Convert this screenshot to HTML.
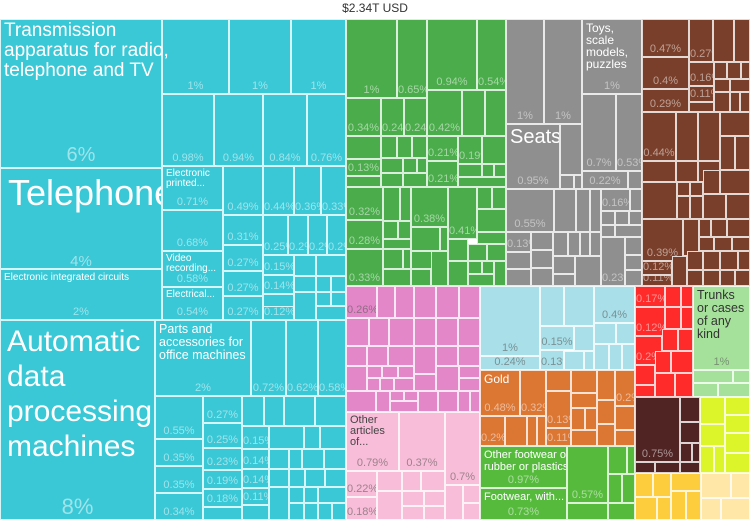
<!DOCTYPE html>
<html><head><meta charset="utf-8"><style>
body{margin:0;width:750px;height:520px;overflow:hidden;background:#fff;font-family:"Liberation Sans",sans-serif;position:relative}
.b{position:absolute;box-sizing:border-box;border:1px solid rgba(255,255,255,.8);overflow:hidden}
.p{position:absolute;left:0;right:0;bottom:0;text-align:center;font-size:11px;line-height:13px;color:rgba(255,255,255,.5);white-space:nowrap}
.t{position:absolute;left:3px;top:2px;color:#fff;font-size:11px;line-height:12px}
.c{background:#3ac8d6}.g{background:#4aac4a}.y{background:#8f8f8f}.r{background:#793f2a}
.k{background:#e387c8}.lk{background:#f8bdd8}.lb{background:#a9dfe8}.o{background:#dc7633}
.g2{background:#56bb3d}.rd{background:#ff2a2a}.lg{background:#a6e19b}.db{background:#512424}
.yg{background:#dbf52a}.yl{background:#fecd3e}.cr{background:#ffe7a7}
.dk .p{color:rgba(80,80,80,.55)}.dk .t{color:#444}
.y .p{color:rgba(230,230,230,.6)}
.ov{position:absolute;color:#fff;white-space:nowrap;z-index:5}
</style></head><body>
<div style="position:absolute;left:0;right:0;top:1px;text-align:center;font-size:12px;color:#333">$2.34T USD</div>

<!-- CYAN -->
<div class="b c" style="left:0;top:19px;width:162px;height:149px"><div class="p" style="font-size:20px;line-height:22px;bottom:1px">6%</div></div>
<div class="b c" style="left:162px;top:19px;width:67px;height:75px"><div class="p">1%</div></div>
<div class="b c" style="left:229px;top:19px;width:62px;height:75px"><div class="p">1%</div></div>
<div class="b c" style="left:291px;top:19px;width:55px;height:75px"><div class="p">1%</div></div>
<div class="b c" style="left:162px;top:94px;width:52px;height:72px"><div class="p">0.98%</div></div>
<div class="b c" style="left:214px;top:94px;width:49px;height:72px"><div class="p">0.94%</div></div>
<div class="b c" style="left:263px;top:94px;width:44px;height:72px"><div class="p">0.84%</div></div>
<div class="b c" style="left:307px;top:94px;width:39px;height:72px"><div class="p">0.76%</div></div>
<div class="ov" style="left:4px;top:21px;font-size:19px;line-height:20px">Transmission<br>apparatus for radio,<br>telephone and TV</div>
<div class="b c" style="left:0;top:168px;width:162px;height:101px"><div class="t" style="font-size:36px;line-height:40px;left:7px;top:4px;white-space:nowrap">Telephones</div><div class="p" style="font-size:15px">4%</div></div>
<div class="b c" style="left:0;top:269px;width:162px;height:51px"><div class="t" style="font-size:10px">Electronic integrated circuits</div><div class="p">2%</div></div>
<div class="b c" style="left:162px;top:166px;width:61px;height:44px"><div class="t" style="font-size:10px;line-height:10px">Electronic<br>printed...</div><div class="p">0.71%</div></div>
<div class="b c" style="left:162px;top:210px;width:61px;height:41px"><div class="p">0.68%</div></div>
<div class="b c" style="left:162px;top:251px;width:61px;height:36px"><div class="t" style="font-size:10px;line-height:10px">Video<br>recording...</div><div class="p">0.58%</div></div>
<div class="b c" style="left:162px;top:287px;width:61px;height:33px"><div class="t" style="font-size:10px;line-height:10px">Electrical...</div><div class="p">0.54%</div></div>
<div class="b c" style="left:223px;top:166px;width:40px;height:49px"><div class="p">0.49%</div></div>
<div class="b c" style="left:223px;top:215px;width:40px;height:30px"><div class="p">0.31%</div></div>
<div class="b c" style="left:223px;top:245px;width:40px;height:26px"><div class="p">0.27%</div></div>
<div class="b c" style="left:223px;top:271px;width:40px;height:25px"><div class="p">0.27%</div></div>
<div class="b c" style="left:223px;top:296px;width:40px;height:24px"><div class="p">0.27%</div></div>
<div class="b c" style="left:263px;top:166px;width:31px;height:49px"><div class="p">0.44%</div></div>
<div class="b c" style="left:294px;top:166px;width:27px;height:49px"><div class="p">0.36%</div></div>
<div class="b c" style="left:321px;top:166px;width:25px;height:49px"><div class="p">0.33%</div></div>
<div class="b c" style="left:263px;top:215px;width:25px;height:40px"><div class="p">0.25%</div></div>
<div class="b c" style="left:288px;top:215px;width:20px;height:40px"><div class="p">0.2%</div></div>
<div class="b c" style="left:308px;top:215px;width:19px;height:40px"><div class="p">0.2%</div></div>
<div class="b c" style="left:327px;top:215px;width:19px;height:40px"><div class="p">0.2%</div></div>
<div class="b c" style="left:263px;top:255px;width:31px;height:20px"><div class="p">0.15%</div></div>
<div class="b c" style="left:263px;top:275px;width:31px;height:19px"><div class="p">0.14%</div></div>
<div class="b c" style="left:263px;top:294px;width:31px;height:16px"></div>
<div class="b c" style="left:263px;top:306px;width:31px;height:14px"><div class="p">0.12%</div></div>
<div class="b c" style="left:294px;top:255px;width:22px;height:21px"></div>
<div class="b c" style="left:316px;top:255px;width:30px;height:21px"></div>
<div class="b c" style="left:294px;top:276px;width:22px;height:16px"></div>
<div class="b c" style="left:316px;top:276px;width:15px;height:16px"></div>
<div class="b c" style="left:331px;top:276px;width:15px;height:16px"></div>
<div class="b c" style="left:294px;top:292px;width:22px;height:28px"></div>
<div class="b c" style="left:316px;top:292px;width:15px;height:14px"></div>
<div class="b c" style="left:331px;top:292px;width:15px;height:14px"></div>
<div class="b c" style="left:316px;top:306px;width:30px;height:14px"></div>
<div class="b c" style="left:0;top:320px;width:155px;height:200px"><div class="p" style="font-size:22px;line-height:24px">8%</div></div>
<div class="b c" style="left:155px;top:320px;width:96px;height:76px"><div class="t" style="font-size:12.5px;line-height:13px">Parts and<br>accessories for<br>office machines</div><div class="p">2%</div></div>
<div class="b c" style="left:251px;top:320px;width:35px;height:76px"><div class="p">0.72%</div></div>
<div class="b c" style="left:286px;top:320px;width:32px;height:76px"><div class="p">0.62%</div></div>
<div class="b c" style="left:318px;top:320px;width:28px;height:76px"><div class="p">0.58%</div></div>
<div class="b c" style="left:155px;top:396px;width:48px;height:43px"><div class="p">0.55%</div></div>
<div class="b c" style="left:155px;top:439px;width:48px;height:27px"><div class="p">0.35%</div></div>
<div class="b c" style="left:155px;top:466px;width:48px;height:27px"><div class="p">0.35%</div></div>
<div class="b c" style="left:155px;top:493px;width:48px;height:27px"><div class="p">0.34%</div></div>
<div class="ov" style="left:7px;top:324px;font-size:30px;line-height:35px">Automatic<br>data<br>processing<br>machines</div>
<div class="b c" style="left:203px;top:396px;width:39px;height:27px"><div class="p">0.27%</div></div>
<div class="b c" style="left:203px;top:423px;width:39px;height:25px"><div class="p">0.25%</div></div>
<div class="b c" style="left:203px;top:448px;width:39px;height:22px"><div class="p">0.23%</div></div>
<div class="b c" style="left:203px;top:470px;width:39px;height:19px"><div class="p">0.19%</div></div>
<div class="b c" style="left:203px;top:489px;width:39px;height:18px"><div class="p">0.18%</div></div>
<div class="b c" style="left:203px;top:507px;width:39px;height:13px"></div>
<div class="b c" style="left:242px;top:396px;width:22px;height:30px"></div>
<div class="b c" style="left:264px;top:396px;width:20px;height:30px"></div>
<div class="b c" style="left:284px;top:396px;width:31px;height:30px"></div>
<div class="b c" style="left:315px;top:396px;width:31px;height:30px"></div>
<div class="b c" style="left:242px;top:426px;width:27px;height:23px"><div class="p">0.15%</div></div>
<div class="b c" style="left:242px;top:449px;width:27px;height:20px"><div class="p">0.14%</div></div>
<div class="b c" style="left:242px;top:469px;width:27px;height:19px"><div class="p">0.14%</div></div>
<div class="b c" style="left:242px;top:488px;width:27px;height:17px"><div class="p">0.11%</div></div>
<div class="b c" style="left:242px;top:505px;width:27px;height:15px"></div>
<div class="b c" style="left:269px;top:426px;width:35px;height:23px"></div>
<div class="b c" style="left:304px;top:426px;width:16px;height:23px"></div>
<div class="b c" style="left:320px;top:426px;width:26px;height:23px"></div>
<div class="b c" style="left:269px;top:449px;width:20px;height:20px"></div>
<div class="b c" style="left:289px;top:449px;width:13px;height:20px"></div>
<div class="b c" style="left:302px;top:449px;width:22px;height:20px"></div>
<div class="b c" style="left:324px;top:449px;width:22px;height:20px"></div>
<div class="b c" style="left:269px;top:469px;width:20px;height:18px"></div>
<div class="b c" style="left:289px;top:469px;width:16px;height:18px"></div>
<div class="b c" style="left:305px;top:469px;width:20px;height:18px"></div>
<div class="b c" style="left:325px;top:469px;width:21px;height:18px"></div>
<div class="b c" style="left:269px;top:487px;width:20px;height:33px"></div>
<div class="b c" style="left:289px;top:487px;width:15px;height:16px"></div>
<div class="b c" style="left:304px;top:487px;width:14px;height:16px"></div>
<div class="b c" style="left:318px;top:487px;width:28px;height:16px"></div>
<div class="b c" style="left:289px;top:503px;width:15px;height:17px"></div>
<div class="b c" style="left:304px;top:503px;width:14px;height:17px"></div>
<div class="b c" style="left:318px;top:503px;width:14px;height:17px"></div>
<div class="b c" style="left:332px;top:503px;width:14px;height:17px"></div>

<!-- GREEN -->
<div class="b g" style="left:346px;top:19px;width:51px;height:79px"><div class="p">1%</div></div>
<div class="b g" style="left:397px;top:19px;width:30px;height:79px"><div class="p">0.65%</div></div>
<div class="b g" style="left:427px;top:19px;width:50px;height:71px"><div class="p">0.94%</div></div>
<div class="b g" style="left:477px;top:19px;width:29px;height:71px"><div class="p">0.54%</div></div>
<div class="b g" style="left:346px;top:98px;width:35px;height:38px"><div class="p">0.34%</div></div>
<div class="b g" style="left:381px;top:98px;width:23px;height:38px"><div class="p">0.24%</div></div>
<div class="b g" style="left:404px;top:98px;width:23px;height:38px"><div class="p">0.24%</div></div>
<div class="b g" style="left:346px;top:136px;width:35px;height:23px"></div>
<div class="b g" style="left:346px;top:159px;width:35px;height:17px"><div class="p">0.13%</div></div>
<div class="b g" style="left:346px;top:176px;width:35px;height:11px"></div>
<div class="b g" style="left:381px;top:136px;width:16px;height:22px"></div>
<div class="b g" style="left:397px;top:136px;width:15px;height:22px"></div>
<div class="b g" style="left:412px;top:136px;width:15px;height:22px"></div>
<div class="b g" style="left:381px;top:158px;width:22px;height:15px"></div>
<div class="b g" style="left:403px;top:158px;width:14px;height:15px"></div>
<div class="b g" style="left:417px;top:158px;width:10px;height:15px"></div>
<div class="b g" style="left:381px;top:173px;width:22px;height:14px"></div>
<div class="b g" style="left:403px;top:173px;width:24px;height:14px"></div>
<div class="b g" style="left:427px;top:90px;width:35px;height:46px"><div class="p">0.42%</div></div>
<div class="b g" style="left:462px;top:90px;width:23px;height:46px"></div>
<div class="b g" style="left:485px;top:90px;width:21px;height:46px"></div>
<div class="b g" style="left:427px;top:136px;width:31px;height:25px"><div class="p">0.21%</div></div>
<div class="b g" style="left:427px;top:161px;width:31px;height:26px"><div class="p">0.21%</div></div>
<div class="b g" style="left:458px;top:136px;width:24px;height:28px"><div class="p">0.19%</div></div>
<div class="b g" style="left:482px;top:136px;width:24px;height:28px"></div>
<div class="b g" style="left:458px;top:164px;width:24px;height:13px"></div>
<div class="b g" style="left:482px;top:164px;width:12px;height:13px"></div>
<div class="b g" style="left:494px;top:164px;width:12px;height:13px"></div>
<div class="b g" style="left:458px;top:177px;width:48px;height:10px"></div>
<div class="b g" style="left:346px;top:187px;width:37px;height:33px"><div class="p">0.32%</div></div>
<div class="b g" style="left:346px;top:220px;width:37px;height:29px"><div class="p">0.28%</div></div>
<div class="b g" style="left:346px;top:249px;width:37px;height:37px"><div class="p">0.33%</div></div>
<div class="b g" style="left:383px;top:187px;width:17px;height:34px"></div>
<div class="b g" style="left:400px;top:187px;width:11px;height:34px"></div>
<div class="b g" style="left:383px;top:221px;width:15px;height:18px"></div>
<div class="b g" style="left:398px;top:221px;width:13px;height:18px"></div>
<div class="b g" style="left:383px;top:239px;width:28px;height:10px"></div>
<div class="b g" style="left:383px;top:249px;width:20px;height:20px"></div>
<div class="b g" style="left:403px;top:249px;width:8px;height:20px"></div>
<div class="b g" style="left:383px;top:269px;width:28px;height:17px"></div>
<div class="b g" style="left:411px;top:187px;width:37px;height:40px"><div class="p">0.38%</div></div>
<div class="b g" style="left:411px;top:227px;width:29px;height:24px"></div>
<div class="b g" style="left:440px;top:227px;width:8px;height:24px"></div>
<div class="b g" style="left:411px;top:251px;width:29px;height:18px"></div>
<div class="b g" style="left:411px;top:269px;width:20px;height:17px"></div>
<div class="b g" style="left:431px;top:251px;width:17px;height:35px"></div>
<div class="b g" style="left:448px;top:187px;width:29px;height:52px"><div class="p">0.41%</div></div>
<div class="b g" style="left:477px;top:187px;width:15px;height:22px"></div>
<div class="b g" style="left:492px;top:187px;width:14px;height:22px"></div>
<div class="b g" style="left:477px;top:209px;width:29px;height:23px"></div>
<div class="b g" style="left:477px;top:232px;width:29px;height:12px"></div>
<div class="b g" style="left:448px;top:239px;width:20px;height:22px"></div>
<div class="b g" style="left:468px;top:244px;width:19px;height:17px"></div>
<div class="b g" style="left:487px;top:244px;width:19px;height:17px"></div>
<div class="b g" style="left:448px;top:261px;width:20px;height:25px"></div>
<div class="b g" style="left:468px;top:261px;width:14px;height:13px"></div>
<div class="b g" style="left:482px;top:261px;width:12px;height:13px"></div>
<div class="b g" style="left:494px;top:261px;width:12px;height:25px"></div>
<div class="b g" style="left:468px;top:274px;width:26px;height:12px"></div>

<!-- GRAY -->
<div class="b y" style="left:506px;top:19px;width:38px;height:105px"><div class="p">1%</div></div>
<div class="b y" style="left:544px;top:19px;width:38px;height:105px"><div class="p">1%</div></div>
<div class="b y" style="left:582px;top:19px;width:60px;height:75px"><div class="t" style="font-size:12px;line-height:12px">Toys,<br>scale<br>models,<br>puzzles</div><div class="p">1%</div></div>
<div class="b y" style="left:506px;top:124px;width:54px;height:65px"><div class="t" style="font-size:20px;line-height:22px;top:1px">Seats</div><div class="p">0.95%</div></div>
<div class="b y" style="left:560px;top:124px;width:22px;height:51px"></div>
<div class="b y" style="left:560px;top:175px;width:14px;height:14px"></div>
<div class="b y" style="left:574px;top:175px;width:8px;height:14px"></div>
<div class="b y" style="left:582px;top:94px;width:34px;height:77px"><div class="p">0.7%</div></div>
<div class="b y" style="left:616px;top:94px;width:26px;height:77px"><div class="p">0.53%</div></div>
<div class="b y" style="left:582px;top:171px;width:46px;height:18px"><div class="p">0.22%</div></div>
<div class="b y" style="left:628px;top:171px;width:14px;height:18px"></div>
<div class="b y" style="left:506px;top:189px;width:48px;height:43px"><div class="p">0.55%</div></div>
<div class="b y" style="left:554px;top:189px;width:22px;height:43px"></div>
<div class="b y" style="left:576px;top:189px;width:14px;height:43px"></div>
<div class="b y" style="left:590px;top:189px;width:11px;height:43px"></div>
<div class="b y" style="left:601px;top:189px;width:29px;height:22px"><div class="p">0.16%</div></div>
<div class="b y" style="left:630px;top:189px;width:12px;height:22px"></div>
<div class="b y" style="left:506px;top:232px;width:25px;height:20px"><div class="p">0.13%</div></div>
<div class="b y" style="left:506px;top:252px;width:25px;height:17px"></div>
<div class="b y" style="left:506px;top:269px;width:25px;height:17px"></div>
<div class="b y" style="left:531px;top:232px;width:22px;height:18px"></div>
<div class="b y" style="left:531px;top:250px;width:22px;height:18px"></div>
<div class="b y" style="left:531px;top:268px;width:22px;height:18px"></div>
<div class="b y" style="left:553px;top:232px;width:15px;height:24px"></div>
<div class="b y" style="left:568px;top:232px;width:12px;height:24px"></div>
<div class="b y" style="left:580px;top:232px;width:10px;height:24px"></div>
<div class="b y" style="left:590px;top:232px;width:11px;height:24px"></div>
<div class="b y" style="left:553px;top:256px;width:22px;height:18px"></div>
<div class="b y" style="left:575px;top:256px;width:26px;height:30px"></div>
<div class="b y" style="left:553px;top:274px;width:22px;height:12px"></div>
<div class="b y" style="left:601px;top:211px;width:14px;height:14px"></div>
<div class="b y" style="left:615px;top:211px;width:14px;height:14px"></div>
<div class="b y" style="left:629px;top:211px;width:13px;height:14px"></div>
<div class="b y" style="left:601px;top:225px;width:14px;height:12px"></div>
<div class="b y" style="left:615px;top:225px;width:27px;height:12px"></div>
<div class="b y" style="left:601px;top:237px;width:24px;height:49px"><div class="p">0.23%</div></div>
<div class="b y" style="left:625px;top:237px;width:17px;height:18px"></div>
<div class="b y" style="left:625px;top:255px;width:17px;height:15px"></div>
<div class="b y" style="left:625px;top:270px;width:17px;height:16px"></div>

<!-- BROWN -->
<div class="b r" style="left:642px;top:19px;width:47px;height:38px"><div class="p">0.47%</div></div>
<div class="b r" style="left:689px;top:19px;width:24px;height:43px"><div class="p">0.27%</div></div>
<div class="b r" style="left:713px;top:19px;width:21px;height:43px"></div>
<div class="b r" style="left:734px;top:19px;width:16px;height:43px"></div>
<div class="b r" style="left:642px;top:57px;width:47px;height:32px"><div class="p">0.4%</div></div>
<div class="b r" style="left:642px;top:89px;width:47px;height:23px"><div class="p">0.29%</div></div>
<div class="b r" style="left:689px;top:62px;width:25px;height:24px"><div class="p">0.16%</div></div>
<div class="b r" style="left:689px;top:86px;width:25px;height:16px"><div class="p">0.11%</div></div>
<div class="b r" style="left:689px;top:102px;width:25px;height:10px"></div>
<div class="b r" style="left:714px;top:62px;width:13px;height:17px"></div>
<div class="b r" style="left:727px;top:62px;width:14px;height:17px"></div>
<div class="b r" style="left:741px;top:62px;width:9px;height:17px"></div>
<div class="b r" style="left:714px;top:79px;width:16px;height:13px"></div>
<div class="b r" style="left:730px;top:79px;width:20px;height:13px"></div>
<div class="b r" style="left:714px;top:92px;width:16px;height:20px"></div>
<div class="b r" style="left:730px;top:92px;width:10px;height:20px"></div>
<div class="b r" style="left:740px;top:92px;width:10px;height:20px"></div>
<div class="b r" style="left:642px;top:112px;width:34px;height:49px"><div class="p">0.44%</div></div>
<div class="b r" style="left:676px;top:112px;width:22px;height:49px"></div>
<div class="b r" style="left:698px;top:112px;width:22px;height:49px"></div>
<div class="b r" style="left:720px;top:112px;width:30px;height:24px"></div>
<div class="b r" style="left:720px;top:136px;width:15px;height:34px"></div>
<div class="b r" style="left:735px;top:136px;width:15px;height:34px"></div>
<div class="b r" style="left:642px;top:161px;width:34px;height:21px"></div>
<div class="b r" style="left:676px;top:161px;width:22px;height:21px"></div>
<div class="b r" style="left:698px;top:161px;width:22px;height:21px"></div>
<div class="b r" style="left:642px;top:182px;width:35px;height:37px"></div>
<div class="b r" style="left:677px;top:182px;width:13px;height:14px"></div>
<div class="b r" style="left:690px;top:182px;width:13px;height:14px"></div>
<div class="b r" style="left:677px;top:196px;width:13px;height:23px"></div>
<div class="b r" style="left:690px;top:196px;width:13px;height:23px"></div>
<div class="b r" style="left:703px;top:170px;width:17px;height:24px"></div>
<div class="b r" style="left:720px;top:170px;width:30px;height:24px"></div>
<div class="b r" style="left:703px;top:194px;width:23px;height:25px"></div>
<div class="b r" style="left:726px;top:194px;width:24px;height:25px"></div>
<div class="b r" style="left:642px;top:219px;width:41px;height:42px"><div class="p">0.39%</div></div>
<div class="b r" style="left:642px;top:261px;width:30px;height:14px"><div class="p">0.12%</div></div>
<div class="b r" style="left:642px;top:275px;width:30px;height:11px"><div class="p">0.11%</div></div>
<div class="b r" style="left:672px;top:256px;width:15px;height:30px"></div>
<div class="b r" style="left:683px;top:219px;width:16px;height:37px"></div>
<div class="b r" style="left:699px;top:219px;width:12px;height:18px"></div>
<div class="b r" style="left:711px;top:219px;width:16px;height:18px"></div>
<div class="b r" style="left:727px;top:219px;width:23px;height:18px"></div>
<div class="b r" style="left:699px;top:237px;width:15px;height:14px"></div>
<div class="b r" style="left:714px;top:237px;width:18px;height:14px"></div>
<div class="b r" style="left:732px;top:237px;width:18px;height:14px"></div>
<div class="b r" style="left:687px;top:251px;width:16px;height:19px"></div>
<div class="b r" style="left:703px;top:251px;width:17px;height:19px"></div>
<div class="b r" style="left:720px;top:251px;width:18px;height:19px"></div>
<div class="b r" style="left:738px;top:251px;width:12px;height:19px"></div>
<div class="b r" style="left:687px;top:270px;width:16px;height:16px"></div>
<div class="b r" style="left:703px;top:270px;width:17px;height:16px"></div>
<div class="b r" style="left:720px;top:270px;width:15px;height:16px"></div>
<div class="b r" style="left:735px;top:270px;width:15px;height:16px"></div>

<!-- PINK -->
<div class="b k" style="left:346px;top:286px;width:31px;height:32px"><div class="p" style="color:rgba(90,90,90,.6)">0.26%</div></div>
<div class="b k" style="left:377px;top:286px;width:18px;height:32px"></div>
<div class="b k" style="left:395px;top:286px;width:19px;height:32px"></div>
<div class="b k" style="left:414px;top:286px;width:22px;height:32px"></div>
<div class="b k" style="left:436px;top:286px;width:23px;height:32px"></div>
<div class="b k" style="left:459px;top:286px;width:21px;height:32px"></div>
<div class="b k" style="left:346px;top:318px;width:23px;height:28px"></div>
<div class="b k" style="left:369px;top:318px;width:20px;height:28px"></div>
<div class="b k" style="left:389px;top:318px;width:25px;height:28px"></div>
<div class="b k" style="left:414px;top:318px;width:22px;height:28px"></div>
<div class="b k" style="left:436px;top:318px;width:22px;height:28px"></div>
<div class="b k" style="left:458px;top:318px;width:22px;height:28px"></div>
<div class="b k" style="left:346px;top:346px;width:21px;height:20px"></div>
<div class="b k" style="left:367px;top:346px;width:21px;height:20px"></div>
<div class="b k" style="left:388px;top:346px;width:26px;height:20px"></div>
<div class="b k" style="left:414px;top:346px;width:22px;height:28px"></div>
<div class="b k" style="left:436px;top:346px;width:22px;height:20px"></div>
<div class="b k" style="left:458px;top:346px;width:22px;height:20px"></div>
<div class="b k" style="left:346px;top:366px;width:21px;height:25px"></div>
<div class="b k" style="left:367px;top:366px;width:15px;height:12px"></div>
<div class="b k" style="left:382px;top:366px;width:16px;height:12px"></div>
<div class="b k" style="left:398px;top:366px;width:16px;height:12px"></div>
<div class="b k" style="left:436px;top:366px;width:23px;height:25px"></div>
<div class="b k" style="left:459px;top:366px;width:21px;height:12px"></div>
<div class="b k" style="left:367px;top:378px;width:13px;height:13px"></div>
<div class="b k" style="left:380px;top:378px;width:14px;height:13px"></div>
<div class="b k" style="left:394px;top:378px;width:20px;height:13px"></div>
<div class="b k" style="left:414px;top:374px;width:22px;height:17px"></div>
<div class="b k" style="left:459px;top:378px;width:21px;height:13px"></div>
<div class="b k" style="left:346px;top:391px;width:30px;height:21px"></div>
<div class="b k" style="left:376px;top:391px;width:14px;height:21px"></div>
<div class="b k" style="left:390px;top:391px;width:14px;height:10px"></div>
<div class="b k" style="left:404px;top:391px;width:14px;height:10px"></div>
<div class="b k" style="left:390px;top:401px;width:28px;height:11px"></div>
<div class="b k" style="left:418px;top:391px;width:20px;height:21px"></div>
<div class="b k" style="left:438px;top:391px;width:20px;height:21px"></div>
<div class="b k" style="left:458px;top:391px;width:12px;height:21px"></div>
<div class="b k" style="left:470px;top:391px;width:10px;height:21px"></div>

<!-- LIGHT PINK -->
<div class="b lk dk" style="left:346px;top:412px;width:53px;height:59px"><div class="t" style="font-size:11px;line-height:11px">Other<br>articles<br>of...</div><div class="p">0.79%</div></div>
<div class="b lk dk" style="left:399px;top:412px;width:46px;height:59px"><div class="p">0.37%</div></div>
<div class="b lk dk" style="left:445px;top:412px;width:35px;height:73px"><div class="p">0.7%</div></div>
<div class="b lk dk" style="left:346px;top:471px;width:31px;height:26px"><div class="p">0.22%</div></div>
<div class="b lk dk" style="left:346px;top:497px;width:31px;height:23px"><div class="p">0.18%</div></div>
<div class="b lk" style="left:377px;top:471px;width:25px;height:20px"></div>
<div class="b lk" style="left:402px;top:471px;width:19px;height:20px"></div>
<div class="b lk" style="left:421px;top:471px;width:24px;height:20px"></div>
<div class="b lk" style="left:377px;top:491px;width:25px;height:29px"></div>
<div class="b lk" style="left:402px;top:491px;width:22px;height:15px"></div>
<div class="b lk" style="left:424px;top:491px;width:21px;height:15px"></div>
<div class="b lk" style="left:402px;top:506px;width:22px;height:14px"></div>
<div class="b lk" style="left:424px;top:506px;width:21px;height:14px"></div>
<div class="b lk" style="left:445px;top:485px;width:18px;height:35px"></div>
<div class="b lk" style="left:463px;top:485px;width:17px;height:18px"></div>
<div class="b lk" style="left:463px;top:503px;width:17px;height:17px"></div>

<!-- LIGHT BLUE -->
<div class="b lb dk" style="left:480px;top:286px;width:60px;height:70px"><div class="p">1%</div></div>
<div class="b lb dk" style="left:480px;top:356px;width:60px;height:14px"><div class="p">0.24%</div></div>
<div class="b lb" style="left:540px;top:286px;width:24px;height:40px"></div>
<div class="b lb" style="left:564px;top:286px;width:30px;height:40px"></div>
<div class="b lb dk" style="left:540px;top:326px;width:34px;height:24px"><div class="p">0.15%</div></div>
<div class="b lb dk" style="left:540px;top:350px;width:24px;height:20px"><div class="p">0.13%</div></div>
<div class="b lb" style="left:574px;top:326px;width:20px;height:25px"></div>
<div class="b lb" style="left:564px;top:351px;width:20px;height:19px"></div>
<div class="b lb" style="left:584px;top:351px;width:10px;height:19px"></div>
<div class="b lb dk" style="left:594px;top:286px;width:41px;height:37px"><div class="p">0.4%</div></div>
<div class="b lb" style="left:594px;top:323px;width:22px;height:21px"></div>
<div class="b lb" style="left:616px;top:323px;width:19px;height:21px"></div>
<div class="b lb" style="left:594px;top:344px;width:15px;height:26px"></div>
<div class="b lb" style="left:609px;top:344px;width:13px;height:26px"></div>
<div class="b lb" style="left:622px;top:344px;width:13px;height:26px"></div>

<!-- ORANGE -->
<div class="b o" style="left:480px;top:370px;width:40px;height:46px"><div class="t" style="font-size:12px">Gold</div><div class="p">0.48%</div></div>
<div class="b o" style="left:520px;top:370px;width:26px;height:46px"><div class="p">0.32%</div></div>
<div class="b o" style="left:480px;top:416px;width:25px;height:30px"><div class="p">0.2%</div></div>
<div class="b o" style="left:505px;top:416px;width:22px;height:30px"></div>
<div class="b o" style="left:527px;top:416px;width:10px;height:30px"></div>
<div class="b o" style="left:537px;top:416px;width:9px;height:30px"></div>
<div class="b o" style="left:546px;top:370px;width:25px;height:21px"></div>
<div class="b o" style="left:546px;top:391px;width:25px;height:37px"><div class="p">0.13%</div></div>
<div class="b o" style="left:546px;top:428px;width:25px;height:18px"><div class="p">0.11%</div></div>
<div class="b o" style="left:571px;top:370px;width:26px;height:23px"></div>
<div class="b o" style="left:597px;top:370px;width:18px;height:30px"></div>
<div class="b o" style="left:571px;top:393px;width:26px;height:15px"></div>
<div class="b o" style="left:571px;top:408px;width:14px;height:22px"></div>
<div class="b o" style="left:585px;top:408px;width:12px;height:22px"></div>
<div class="b o" style="left:571px;top:430px;width:26px;height:16px"></div>
<div class="b o" style="left:615px;top:370px;width:20px;height:36px"><div class="p">0.2%</div></div>
<div class="b o" style="left:597px;top:400px;width:18px;height:24px"></div>
<div class="b o" style="left:615px;top:406px;width:20px;height:24px"></div>
<div class="b o" style="left:597px;top:424px;width:18px;height:22px"></div>
<div class="b o" style="left:615px;top:430px;width:20px;height:16px"></div>

<!-- GREEN 2 -->
<div class="b g2" style="left:480px;top:446px;width:87px;height:42px"><div class="t" style="font-size:11px;line-height:12px;white-space:nowrap">Other footwear of<br>rubber or plastics</div><div class="p">0.97%</div></div>
<div class="b g2" style="left:480px;top:488px;width:87px;height:32px"><div class="t" style="font-size:11px">Footwear, with...</div><div class="p">0.73%</div></div>
<div class="b g2" style="left:567px;top:446px;width:41px;height:57px"><div class="p">0.57%</div></div>
<div class="b g2" style="left:567px;top:503px;width:41px;height:17px"></div>
<div class="b g2" style="left:608px;top:446px;width:19px;height:28px"></div>
<div class="b g2" style="left:627px;top:446px;width:8px;height:28px"></div>
<div class="b g2" style="left:608px;top:474px;width:14px;height:29px"></div>
<div class="b g2" style="left:622px;top:474px;width:13px;height:29px"></div>
<div class="b g2" style="left:608px;top:503px;width:27px;height:17px"></div>

<!-- RED -->
<div class="b rd" style="left:635px;top:286px;width:30px;height:21px"><div class="p">0.17%</div></div>
<div class="b rd" style="left:635px;top:307px;width:30px;height:29px"><div class="p">0.12%</div></div>
<div class="b rd" style="left:635px;top:336px;width:27px;height:29px"><div class="p">0.2%</div></div>
<div class="b rd" style="left:665px;top:286px;width:16px;height:21px"></div>
<div class="b rd" style="left:681px;top:286px;width:12px;height:21px"></div>
<div class="b rd" style="left:665px;top:307px;width:16px;height:22px"></div>
<div class="b rd" style="left:681px;top:307px;width:12px;height:22px"></div>
<div class="b rd" style="left:662px;top:329px;width:16px;height:22px"></div>
<div class="b rd" style="left:678px;top:329px;width:15px;height:22px"></div>
<div class="b rd" style="left:635px;top:365px;width:20px;height:20px"></div>
<div class="b rd" style="left:655px;top:351px;width:16px;height:22px"></div>
<div class="b rd" style="left:671px;top:351px;width:22px;height:22px"></div>
<div class="b rd" style="left:655px;top:373px;width:20px;height:24px"></div>
<div class="b rd" style="left:675px;top:373px;width:18px;height:24px"></div>
<div class="b rd" style="left:635px;top:385px;width:20px;height:12px"></div>

<!-- LIGHT GREEN -->
<div class="b lg dk" style="left:693px;top:286px;width:57px;height:84px"><div class="t" style="font-size:12.5px;line-height:13px;color:#333">Trunks<br>or cases<br>of any<br>kind</div><div class="p">1%</div></div>
<div class="b lg" style="left:693px;top:370px;width:40px;height:13px"></div>
<div class="b lg" style="left:733px;top:370px;width:17px;height:13px"></div>
<div class="b lg" style="left:693px;top:383px;width:25px;height:14px"></div>
<div class="b lg" style="left:718px;top:383px;width:32px;height:14px"></div>

<!-- DARK BROWN -->
<div class="b db" style="left:635px;top:397px;width:45px;height:65px"><div class="p">0.75%</div></div>
<div class="b db" style="left:680px;top:397px;width:20px;height:25px"></div>
<div class="b db" style="left:680px;top:422px;width:20px;height:21px"></div>
<div class="b db" style="left:680px;top:443px;width:12px;height:19px"></div>
<div class="b db" style="left:692px;top:443px;width:8px;height:19px"></div>
<div class="b db" style="left:635px;top:462px;width:20px;height:11px"></div>
<div class="b db" style="left:655px;top:462px;width:25px;height:11px"></div>
<div class="b db" style="left:680px;top:462px;width:20px;height:11px"></div>

<!-- YELLOW-GREEN -->
<div class="b yg" style="left:700px;top:397px;width:25px;height:27px"></div>
<div class="b yg" style="left:725px;top:397px;width:25px;height:18px"></div>
<div class="b yg" style="left:725px;top:415px;width:25px;height:18px"></div>
<div class="b yg" style="left:700px;top:424px;width:25px;height:22px"></div>
<div class="b yg" style="left:725px;top:433px;width:25px;height:20px"></div>
<div class="b yg" style="left:700px;top:446px;width:14px;height:27px"></div>
<div class="b yg" style="left:714px;top:446px;width:11px;height:27px"></div>
<div class="b yg" style="left:725px;top:453px;width:25px;height:20px"></div>

<!-- YELLOW -->
<div class="b yl" style="left:635px;top:473px;width:18px;height:24px"></div>
<div class="b yl" style="left:653px;top:473px;width:18px;height:24px"></div>
<div class="b yl" style="left:671px;top:473px;width:30px;height:18px"></div>
<div class="b yl" style="left:635px;top:497px;width:22px;height:23px"></div>
<div class="b yl" style="left:657px;top:497px;width:14px;height:23px"></div>
<div class="b yl" style="left:671px;top:491px;width:15px;height:29px"></div>
<div class="b yl" style="left:686px;top:491px;width:15px;height:29px"></div>

<!-- CREAM -->
<div class="b cr" style="left:701px;top:473px;width:30px;height:25px"></div>
<div class="b cr" style="left:731px;top:473px;width:19px;height:25px"></div>
<div class="b cr" style="left:701px;top:498px;width:20px;height:22px"></div>
<div class="b cr" style="left:721px;top:498px;width:29px;height:22px"></div>
</body></html>
